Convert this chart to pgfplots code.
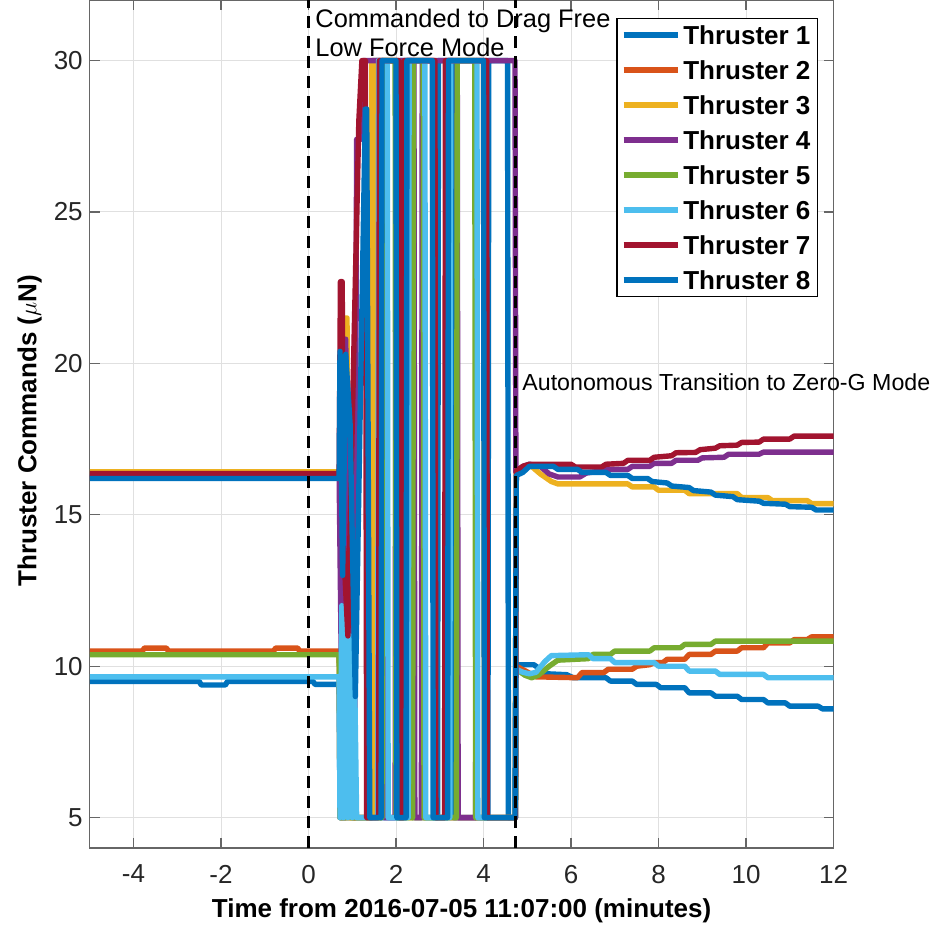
\documentclass[border=0pt]{standalone}
\usepackage{fontspec}
\setmainfont{Liberation Sans}
\usepackage{pgfplots}
\pgfplotsset{compat=1.18}
\definecolor{c1}{rgb}{0,0.447,0.741}
\definecolor{c2}{rgb}{0.85,0.325,0.098}
\definecolor{c3}{rgb}{0.929,0.694,0.125}
\definecolor{c4}{rgb}{0.494,0.184,0.556}
\definecolor{c5}{rgb}{0.466,0.674,0.188}
\definecolor{c6}{rgb}{0.301,0.745,0.933}
\definecolor{c7}{rgb}{0.635,0.078,0.184}
\begin{document}
\begin{tikzpicture}[font=\fontsize{13}{15.6}\selectfont]
\begin{axis}[
 scale only axis, width=371.9pt, height=424pt,
 xmin=-5, xmax=12, ymin=4, ymax=32,
 xtick={-4,-2,...,12}, ytick={5,10,...,30},
 grid=major, major grid style={black!12, line width=0.5pt},
 tick align=inside, major tick length=5pt,
 axis line style={black!60, line width=0.6pt},
 every tick/.style={black!60, line width=0.6pt},
 tick label style={text=black!85},
 /pgf/number format/assume math mode=true,
 xticklabel style={yshift=-5pt},
 xlabel={\bfseries Time from 2016-07-05 11:07:00 (minutes)},
 ylabel={\bfseries Thruster Commands ($\mu$N)},
 every axis x label/.style={at={(rel axis cs:0.5,-0.0745)}, anchor=center},
 every axis y label/.style={at={(rel axis cs:-0.0807,0.492)}, rotate=90, anchor=center},
 legend style={at={(rel axis cs:0.9792,0.9788)}, anchor=north east, draw=black, line width=0.6pt, fill=white, inner sep=2pt, font=\fontsize{13}{15.6}\selectfont\bfseries, row sep=5pt, nodes={inner sep=1.5pt, text height=9.5pt, text depth=0pt}},
 legend cell align=left,
 legend image code/.code={\draw[#1, line cap=butt] (0pt,0pt) -- (27pt,0pt);},
 every axis plot/.append style={line width=2.7pt, line join=round},
 clip=false,
]
\addplot[c1] coordinates {(-5,9.5)(-2.5,9.5)(-2.45,9.38)(-1.9,9.38)(-1.85,9.5)(0.1,9.5)(0.15,9.4)(0.7,9.4)(0.72,5)(0.85,5)(0.92,14)(1.0,5)(1.45,5)(1.47,30)(1.62,30)(1.64,5)(2.08,5)(2.1,30)(2.36,30)(2.38,5)(2.95,5)(2.97,30)(3.3,30)(3.32,5)(4.1,5)(4.12,30)(4.55,30)(4.57,5)(4.73,5)(4.75,10.05)(5.15,10.05)(5.3,9.9)(5.45,9.75)(5.9,9.72)(6.05,9.62)(6.8,9.62)(6.9,9.51)(7.4,9.51)(7.5,9.4)(7.95,9.4)(8.05,9.29)(8.6,9.29)(8.7,9.12)(9.2,9.12)(9.3,9.01)(9.8,9.01)(9.9,8.9)(10.4,8.9)(10.5,8.79)(10.9,8.79)(11.0,8.68)(11.65,8.68)(11.75,8.59)(12,8.59)};
\addlegendentry{Thruster 1}
\addplot[c2] coordinates {(-5,10.5)(-3.8,10.5)(-3.75,10.6)(-3.25,10.6)(-3.2,10.5)(-0.8,10.5)(-0.75,10.6)(-0.25,10.6)(-0.2,10.5)(0.7,10.5)(0.72,5)(1.53,5)(1.55,30)(2.03,30)(2.05,5)(2.23,5)(2.25,30)(2.86,30)(2.88,5)(4.73,5)(4.75,10.0)(4.95,9.85)(5.2,9.65)(6.15,9.62)(6.25,9.79)(6.75,9.79)(6.85,9.9)(7.4,9.9)(7.5,10.0)(7.8,10.05)(7.9,10.12)(8.1,10.12)(8.2,10.23)(8.6,10.23)(8.7,10.39)(9.2,10.39)(9.3,10.5)(9.8,10.5)(9.9,10.61)(10.4,10.61)(10.5,10.77)(11.0,10.77)(11.1,10.88)(11.4,10.88)(11.5,10.97)(12,10.97)};
\addlegendentry{Thruster 2}
\addplot[c3] coordinates {(-5,16.42)(0.72,16.42)(0.8,21.5)(0.88,21.5)(0.92,10)(0.96,5)(1.43,5)(1.45,30)(1.52,30)(1.54,5)(1.66,5)(1.68,30)(2.01,30)(2.03,5)(3.18,5)(3.2,30)(4.0,30)(4.02,5)(4.72,5)(4.75,16.45)(4.95,16.6)(5.1,16.6)(5.3,16.35)(5.55,16.1)(5.7,16.02)(7.3,16.02)(7.4,15.92)(7.9,15.92)(8.0,15.81)(8.6,15.81)(8.7,15.7)(9.8,15.7)(9.9,15.57)(10.5,15.57)(10.6,15.47)(11.4,15.47)(11.5,15.37)(12,15.37)};
\addlegendentry{Thruster 3}
\addplot[c4] coordinates {(-5,16.3)(0.7,16.3)(0.75,10)(0.85,20.8)(0.95,8)(1.05,5)(1.1,27.4)(1.2,27.4)(1.25,30)(1.7,30)(1.72,5)(1.98,5)(2.0,30)(2.41,30)(2.43,5)(2.58,5)(2.6,30)(3.4,30)(3.42,5)(3.82,5)(3.84,30)(4.72,30)(4.74,16.4)(4.9,16.6)(5.05,16.67)(5.3,16.6)(5.5,16.35)(5.7,16.25)(6.2,16.25)(6.35,16.38)(6.7,16.45)(6.8,16.5)(7.3,16.5)(7.4,16.6)(7.8,16.6)(7.9,16.7)(8.3,16.7)(8.4,16.8)(8.9,16.8)(9.0,16.88)(9.5,16.9)(9.6,17.0)(10.3,17.0)(10.4,17.07)(12,17.07)};
\addlegendentry{Thruster 4}
\addplot[c5] coordinates {(-5,10.38)(0.7,10.38)(0.72,5)(1.68,5)(1.7,30)(1.98,30)(2.0,5)(2.38,5)(2.4,30)(2.62,30)(2.64,5)(3.38,5)(3.4,30)(3.8,30)(3.82,5)(4.73,5)(4.75,9.9)(4.95,9.7)(5.1,9.62)(5.25,9.7)(5.5,10.0)(5.7,10.2)(6.4,10.25)(6.5,10.39)(6.9,10.39)(7.0,10.5)(7.8,10.5)(7.9,10.61)(8.5,10.61)(8.6,10.72)(9.2,10.72)(9.3,10.83)(12,10.83)};
\addlegendentry{Thruster 5}
\addplot[c6] coordinates {(-5,9.65)(0.7,9.65)(0.72,5)(0.76,12)(0.8,5)(0.85,11.5)(0.9,5)(0.95,11)(1.0,5)(1.05,10)(1.1,5)(1.58,5)(1.6,30)(1.8,30)(1.82,5)(2.28,5)(2.3,30)(2.66,30)(2.68,5)(3.23,5)(3.25,30)(3.85,30)(3.87,5)(4.73,5)(4.75,9.9)(4.9,9.8)(5.05,9.75)(5.2,9.8)(5.4,10.15)(5.55,10.35)(6.4,10.38)(6.5,10.25)(6.9,10.25)(7.0,10.12)(7.9,10.12)(8.0,10.0)(8.6,10.0)(8.7,9.84)(9.3,9.84)(9.4,9.73)(10.4,9.73)(10.5,9.62)(12,9.62)};
\addlegendentry{Thruster 6}
\addplot[c7] coordinates {(-5,16.36)(0.7,16.36)(0.73,22.7)(0.77,22.7)(0.8,14)(0.9,11)(1.0,18)(1.15,28)(1.22,30)(1.3,30)(1.33,5)(1.6,5)(1.62,30)(2.06,30)(2.08,5)(2.17,5)(2.19,30)(2.89,30)(2.91,5)(3.11,5)(3.13,30)(4.07,30)(4.09,5)(4.73,5)(4.75,16.45)(4.9,16.6)(5.05,16.67)(6.0,16.67)(6.1,16.58)(6.7,16.58)(6.8,16.67)(7.2,16.7)(7.3,16.8)(7.8,16.8)(7.9,16.9)(8.3,16.95)(8.4,17.05)(8.85,17.06)(8.95,17.15)(9.3,17.2)(9.4,17.28)(9.8,17.3)(9.9,17.39)(10.3,17.4)(10.4,17.5)(11.0,17.5)(11.1,17.6)(12,17.6)};
\addlegendentry{Thruster 7}
\addplot[c1] coordinates {(-5,16.2)(0.7,16.2)(0.72,20.4)(0.78,13)(0.85,20.3)(0.95,18)(1.07,9)(1.2,20)(1.3,28.4)(1.33,28.4)(1.4,5)(1.66,5)(1.68,30)(2.0,30)(2.02,5)(2.23,5)(2.25,30)(2.83,30)(2.85,5)(3.18,5)(3.2,30)(4.0,30)(4.02,5)(4.72,5)(4.75,16.3)(4.9,16.4)(5.05,16.6)(5.6,16.6)(5.7,16.5)(6.15,16.5)(6.25,16.4)(6.8,16.4)(6.9,16.3)(7.3,16.3)(7.4,16.2)(7.75,16.2)(7.85,16.1)(8.2,16.05)(8.3,15.95)(8.7,15.9)(8.8,15.8)(9.2,15.75)(9.3,15.65)(9.7,15.6)(9.8,15.5)(10.3,15.45)(10.4,15.38)(10.9,15.35)(11.0,15.27)(11.5,15.25)(11.6,15.16)(12,15.16)};
\addlegendentry{Thruster 8}
\addplot[black, line width=1.5pt, dash pattern=on 6pt off 4pt, forget plot] coordinates {(0,4)(0,32)};
\addplot[black, line width=1.5pt, dash pattern=on 6pt off 4pt, forget plot] coordinates {(4.72,4)(4.72,32)};
\node[anchor=base west, inner sep=0pt, font=\fontsize{12.7}{15}\selectfont] at (axis cs:0.15,31.1) {Commanded to Drag Free};
\node[anchor=base west, inner sep=0pt, font=\fontsize{12.7}{15}\selectfont] at (axis cs:0.15,30.15) {Low Force Mode};
\node[anchor=base west, inner sep=0pt, font=\fontsize{11.6}{13.9}\selectfont] at (axis cs:4.88,19.1) {Autonomous Transition to Zero-G Mode};
\coordinate (bbsw) at (rel axis cs:-0.1207,-0.0908);
\coordinate (bbne) at (rel axis cs:1.1311,1);
\end{axis}
\pgfresetboundingbox
\path[use as bounding box] (bbsw) rectangle (bbne);
\end{tikzpicture}
\end{document}
